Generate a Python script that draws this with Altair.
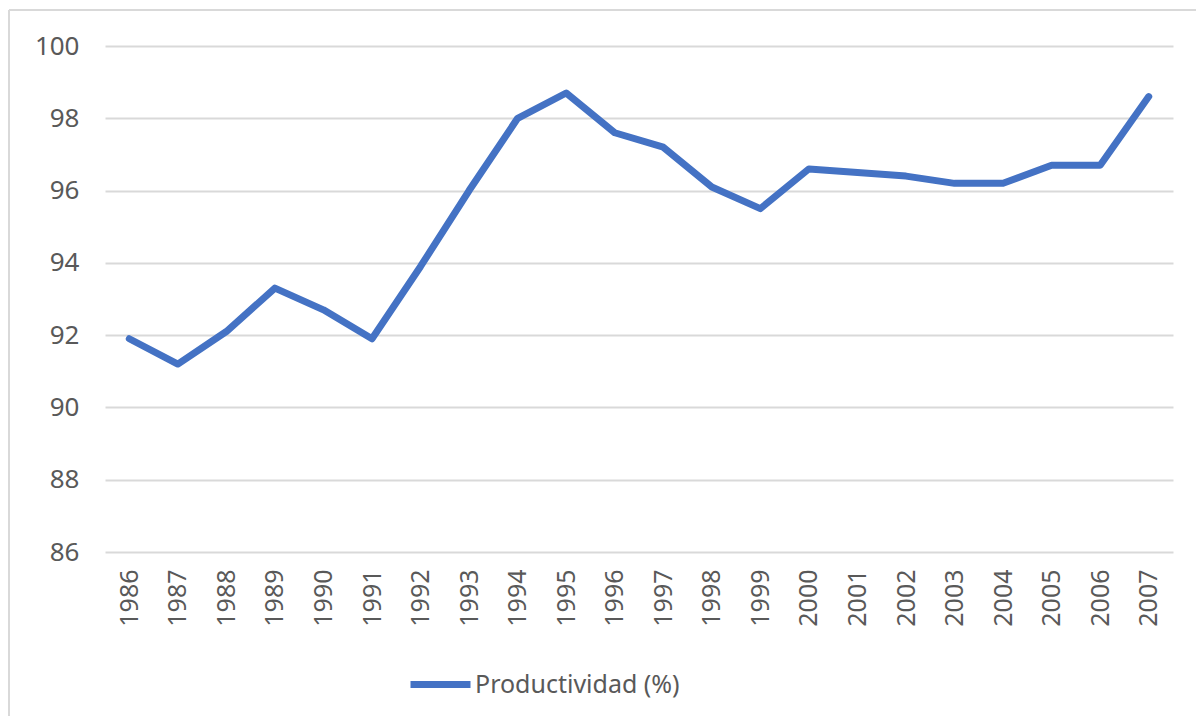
import altair as alt
import pandas as pd

years = [str(y) for y in range(1986, 2008)]
values = [91.9, 91.2, 92.1, 93.3, 92.7, 91.9, 93.9, 96.0, 98.0, 98.7, 97.6,
          97.2, 96.1, 95.5, 96.6, 96.5, 96.4, 96.2, 96.2, 96.7, 96.7, 98.6]
series = "Productividad (%)"

df = pd.DataFrame({"year": years, "value": values, "series": series})

FONT = "Noto Sans"
GRAY = "#595959"

line = alt.Chart(df).mark_line(strokeWidth=7, strokeCap="round", strokeJoin="round").encode(
    x=alt.X("year:O", sort=years, title=None,
            scale=alt.Scale(type="point", padding=0.5),
            axis=alt.Axis(labelAngle=-90, labelAlign="right", labelBaseline="middle",
                          labelPadding=17, ticks=False, domain=False, grid=False,
                          labelFont=FONT, labelFontSize=25, labelColor=GRAY)),
    y=alt.Y("value:Q", title=None,
            scale=alt.Scale(domain=[86, 100], nice=False, zero=False),
            axis=alt.Axis(values=list(range(86, 101, 2)), ticks=False, domain=False,
                          labelPadding=26, labelFont=FONT, labelFontSize=26,
                          labelColor=GRAY, gridColor="#d9d9d9", gridWidth=2)),
    color=alt.Color("series:N", scale=alt.Scale(range=["#4472C4"]), title=None,
                    legend=alt.Legend(orient="none", legendX=302, legendY=605,
                                      symbolType="stroke", symbolSize=3600,
                                      symbolStrokeWidth=7, labelOffset=1,
                                      labelFont=FONT, labelFontSize=25,
                                      labelColor=GRAY, labelLimit=400)),
)

border_left = alt.Chart(df).mark_rule(color="#d9d9d9", strokeWidth=2, clip=False).encode(
    x=alt.value(-96), y=alt.value(-36), y2=alt.value(700))
border_top = alt.Chart(df).mark_rule(color="#d9d9d9", strokeWidth=2, clip=False).encode(
    x=alt.value(-96), x2=alt.value(1120), y=alt.value(-36))

chart = alt.layer(border_left, border_top, line).properties(
    width=1068, height=506,
    autosize=alt.AutoSizeParams(type="none"),
    padding={"left": 97, "top": 38, "right": 23, "bottom": 164},
).configure_view(stroke=None)

chart.save("out.html", embed_options={"renderer": "svg", "actions": False})
